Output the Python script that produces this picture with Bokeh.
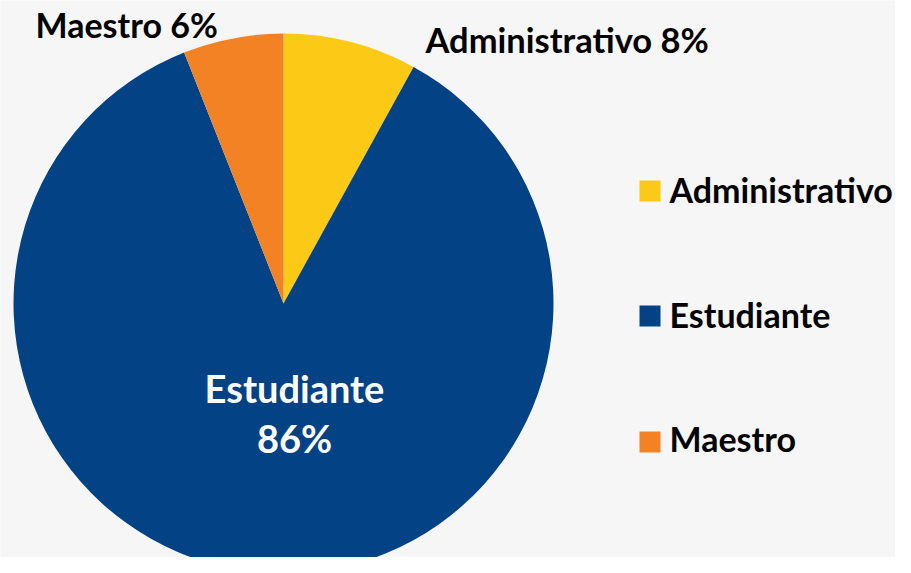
import math
from bokeh.plotting import figure
from bokeh.models import Range1d, ColumnDataSource
from bokeh.core.properties import value
from bokeh.embed import file_html
from bokeh.resources import INLINE

# ---- data ----
categories = ["Administrativo", "Estudiante", "Maestro"]
percentages = [8, 86, 6]
colors = ["#FCC916", "#034285", "#F28223"]

W, H = 895, 557
FONT = "Lato"
DY = 13  # baseline correction for svg text

p = figure(width=W, height=H, output_backend="svg", toolbar_location=None,
           x_range=Range1d(0, W), y_range=Range1d(573 - H, 573),
           min_border=0)
p.axis.visible = False
p.grid.visible = False
p.outline_line_color = None
p.background_fill_color = "#F6F6F6"
p.border_fill_color = "#F6F6F6"

# pie geometry (y measured upward: y = 573 - screen_y)
cx, cy, r = 283, 573 - 303, 270
total = float(sum(percentages))
starts, ends = [], []
a = math.pi / 2
for v in percentages:
    starts.append(a)
    a -= 2 * math.pi * v / total
    ends.append(a)

src = ColumnDataSource(dict(cat=categories, pct=percentages, color=colors,
                            start=starts, end=ends))
p.wedge(x=cx, y=cy, radius=r, start_angle="start", end_angle="end",
        direction="clock", fill_color="color", line_color=None, source=src)


def sy(screen_y):
    return 573 - screen_y + DY


lab_font = value(FONT)
p.text(x=[425], y=[sy(52)], text=[f"{categories[0]} {percentages[0]}%"],
       text_font=lab_font, text_font_style="bold", text_font_size="34.5px",
       text_color="#000000", text_align="left", text_baseline="alphabetic")
p.text(x=[35], y=[sy(37)], text=[f"{categories[2]} {percentages[2]}%"],
       text_font=lab_font, text_font_style="bold", text_font_size="34px",
       text_color="#000000", text_align="left", text_baseline="alphabetic")
p.text(x=[294, 294], y=[sy(400), sy(450)],
       text=[categories[1], f"{percentages[1]}%"],
       text_font=lab_font, text_font_style="bold", text_font_size="38px",
       text_color="#FFFFFF", text_align="center", text_baseline="alphabetic")

# legend (manual)
leg_y = [573 - 190.5, 573 - 315.5, 573 - 441.5]
p.rect(x=[649.5] * 3, y=leg_y, width=21, height=21, width_units="screen",
       height_units="screen", fill_color=colors, line_color=None)
p.text(x=[669] * 3, y=[sy(202), sy(327), sy(451)], text=categories,
       text_font=lab_font, text_font_style="bold", text_font_size="34px",
       text_color="#000000", text_align="left", text_baseline="alphabetic")

open("out.html", "w").write(file_html(p, INLINE))
